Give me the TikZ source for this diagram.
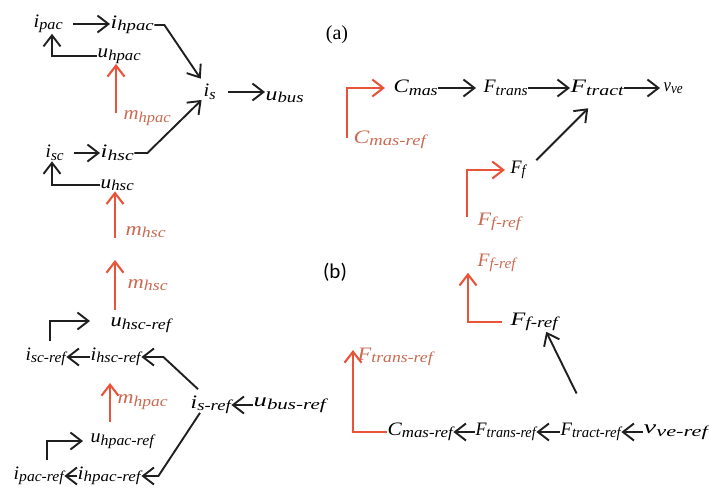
\documentclass[tikz,border=0pt]{standalone}
\usepackage{fontspec}
\usepackage{graphicx}
\setmainfont{Liberation Serif}
\newfontfamily\vfam{Liberation Serif}
\newfontfamily\bfam{Carlito}
\usetikzlibrary{arrows.meta,calc}
\definecolor{ored}{HTML}{E8533A}
\definecolor{otxt}{HTML}{C96A52}
\newcommand\vlab[3]{\resizebox{#1pt}{\height}{\vfam\itshape\fontsize{19}{21}\selectfont #2\raisebox{-2.5pt}{\fontsize{15}{17}\selectfont #3}}}
\tikzset{
  lab/.style={inner sep=0.5pt, anchor=west, text=black},
  olab/.style={lab, text=otxt},
  arr/.style={draw=black!88, line width=1.9pt, -{Straight Barb[length=11pt,width=17pt,line width=1.9pt]}},
  oarr/.style={draw=ored, line width=2.1pt, -{Straight Barb[length=11pt,width=17pt,line width=2.1pt]}},
}
\begin{document}
\begin{tikzpicture}[x=1pt,y=-1pt]
\useasboundingbox (0,0) rectangle (709,491);
% ---------- (a) left ----------
\node[lab] (ipac) at (33,24) {\vlab{29}{i}{pac}};
\node[lab] (ihpac) at (110,25) {\vlab{43}{i}{hpac}};
\node[lab] (uhpac) at (97,56) {\vlab{43}{u}{hpac}};
\node[olab] (mhpac) at (123,118) {\vlab{47}{m}{hpac}};
\node[lab] (is) at (203,92) {\vlab{12}{i}{s}};
\node[lab] (ubus) at (265,97) {\vlab{38}{u}{bus}};
\node[lab] (isc) at (45,153) {\vlab{18}{i}{sc}};
\node[lab] (ihsc) at (100,153) {\vlab{33}{i}{hsc}};
\node[lab] (uhsc) at (100,185) {\vlab{33}{u}{hsc}};
\node[olab] (mhsca) at (125,232) {\vlab{40}{m}{hsc}};
\node[inner sep=0pt, font=\fontsize{20}{22}\selectfont] (la) at (337,35) {(a)};

\draw[arr, shorten <=10pt] (ipac.east) -- (ipac.east -| ihpac.west);
\draw[arr, shorten >=6pt] (ihpac.east) -- ++(10,0) -- (is);
\draw[arr, shorten <=12pt] (is.east) -- (is.east -| ubus.west);
\draw[arr] (uhpac.west) -| ([xshift=19pt]ipac.south west);
\draw[oarr] ([xshift=-7pt,yshift=5pt]mhpac.west) -- ([xshift=-7pt]uhpac.south -| mhpac.west);
\draw[arr, shorten <=10pt] (isc.east) -- (isc.east -| ihsc.west);
\draw[arr, shorten >=2pt] (ihsc.east) -- ++(13,0) -- (is);
\draw[arr] (uhsc.west) -| ([xshift=7pt]isc.south west);
\draw[oarr] ([xshift=-10pt,yshift=-6pt]mhsca.west) -- ([xshift=-10pt]uhsc.south -| mhsca.west);

% ---------- (a) right ----------
\node[lab] (cmas) at (393,88) {\vlab{44}{C}{mas}};
\node[lab] (ftrans) at (483,88) {\vlab{44}{F}{trans}};
\node[lab] (ftract) at (570,88) {\vlab{53}{F}{tract}};
\node[lab] (vve) at (663,88) {\vlab{19}{v}{ve}};
\node[olab] (cmasref) at (353,140) {\vlab{72}{C}{mas-ref}};
\node[lab] (ff) at (510,170) {\vlab{15}{F}{f}};
\node[olab] (ffref) at (477,222) {\vlab{43}{F}{f-ref}};

\draw[arr, shorten >=7pt] (cmas.east) -- (cmas.east -| ftrans.west);
\draw[arr] (ftrans.east) -- (ftrans.east -| ftract.west);
\draw[arr, shorten >=3pt] (ftract.east) -- (ftract.east -| vve.west);
\draw[arr, shorten <=14pt] (ff.east) -- ([xshift=-9pt,yshift=-12pt]ftract.south);
\draw[oarr, shorten >=8pt] ([xshift=-6pt,yshift=2pt]cmasref.west) |- (cmas.west);
\draw[oarr, shorten >=5pt] ([xshift=-10pt,yshift=5pt]ffref.west) |- (ff.west);

% ---------- (b) left ----------
\node[inner sep=0pt, font=\bfam\fontsize{21}{23}\selectfont] (lb) at (335,272) {(b)};
\node[olab] (mhscb) at (127,285) {\vlab{40}{m}{hsc}};
\node[lab] (uhscref) at (110,325) {\vlab{60}{u}{hsc-ref}};
\node[lab] (iscref) at (25,357) {\vlab{40}{i}{sc-ref}};
\node[lab] (ihscref) at (90,357) {\vlab{50}{i}{hsc-ref}};
\node[olab] (mhpacb) at (117,402) {\vlab{50}{m}{hpac}};
\node[lab] (uhpacref) at (90,441) {\vlab{63}{u}{hpac-ref}};
\node[lab] (ipacref) at (13,476) {\vlab{50}{i}{pac-ref}};
\node[lab] (ihpacref) at (77,476) {\vlab{63}{i}{hpac-ref}};
\node[lab] (isref) at (190,405) {\vlab{40}{i}{s-ref}};
\node[lab] (ubusref) at (253,405) {\vlab{72}{u}{bus-ref}};

\draw[oarr] ([xshift=-12pt,yshift=-25pt]mhscb.west) -- ([xshift=-12pt,yshift=25pt]mhscb.west);
\draw[arr, shorten >=20pt] ([xshift=25pt,yshift=6pt]iscref.north west) |- ([yshift=4pt]uhscref.west);
\draw[arr] (ihscref.west) -- (ihscref.west -| iscref.east);
\draw[arr] ([xshift=8pt,yshift=6pt]isref.north west) -- ([xshift=22pt]ihscref.east) -- (ihscref.east);
\draw[oarr] ([xshift=-7pt,yshift=-20pt]mhpacb.west) -- ([xshift=-7pt,yshift=19pt]mhpacb.west);
\draw[arr, shorten >=7pt] ([xshift=34pt,yshift=6pt]ipacref.north west) |- (uhpacref.west);
\draw[arr] (ihpacref.west) -- (ihpacref.west -| ipacref.east);
\draw[arr] ([xshift=10pt,yshift=2pt]isref.south west) -- ([xshift=17pt]ihpacref.east) -- (ihpacref.east);
\draw[arr] (ubusref.west) -- (ubusref.west -| isref.east);

% ---------- (b) right ----------
\node[olab] (ffreft) at (477,263) {\vlab{38}{F}{f-ref}};
\node[lab] (ffrefb) at (510,322) {\vlab{47}{F}{f-ref}};
\node[olab] (ftransrefo) at (357,357) {\vlab{75}{F}{trans-ref}};
\node[lab] (cmasrefb) at (387,432) {\vlab{65}{C}{mas-ref}};
\node[lab] (ftransref) at (475,432) {\vlab{60}{F}{trans-ref}};
\node[lab] (ftractref) at (560,432) {\vlab{60}{F}{tract-ref}};
\node[lab] (vveref) at (643,432) {\vlab{64}{v}{ve-ref}};

\draw[oarr] ([xshift=-8pt]ffrefb.west) -| ([xshift=-9pt]ffreft.south west);
\draw[arr, shorten <=32pt] (ftractref.north) -- ([xshift=12pt]ffrefb.south);
\draw[oarr] (cmasrefb.west) -| ([xshift=-4pt,yshift=7pt]ftransrefo.west);
\draw[arr] (ftransref.west) -- (ftransref.west -| cmasrefb.east);
\draw[arr] (ftractref.west) -- (ftractref.west -| ftransref.east);
\draw[arr] (vveref.west) -- (vveref.west -| ftractref.east);
\end{tikzpicture}
\end{document}
